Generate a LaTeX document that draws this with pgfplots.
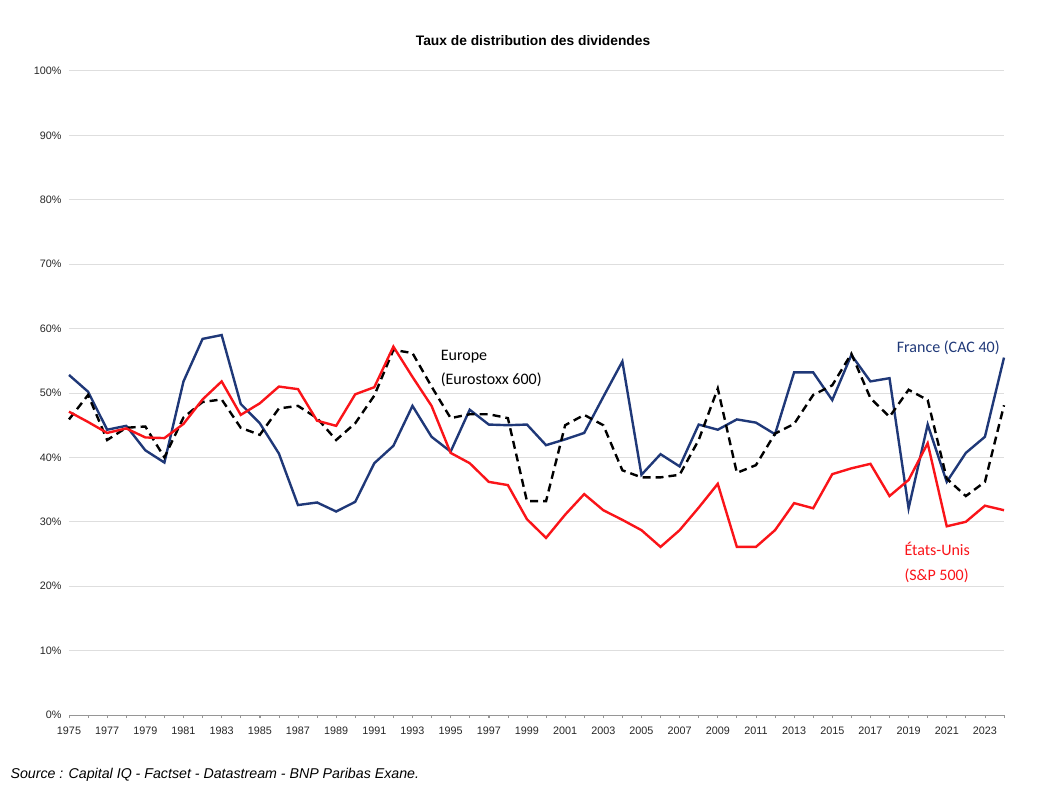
\documentclass[border=0pt]{standalone}
\usepackage{pgfplots}
\pgfplotsset{compat=1.18}
\usepackage{fontspec}
\setmainfont{Liberation Sans}
\newfontfamily\calib{Carlito}
\definecolor{cacnavy}{RGB}{31,56,120}
\definecolor{spred}{RGB}{250,20,25}
\definecolor{gridgray}{RGB}{222,222,222}
\definecolor{axgray}{RGB}{150,150,150}

\begin{document}
\begin{tikzpicture}
  \path[use as bounding box] (-69pt,-86pt) rectangle (993pt,715pt);
  \begin{axis}[
      at={(0,0)}, anchor=origin,
      scale only axis, width=935pt, height=644pt,
      xmin=1975, xmax=2024, ymin=0, ymax=100,
      axis x line*=bottom, axis y line*=left,
      x axis line style={axgray, line width=0.8pt},
      y axis line style={draw=none},
      xtick={1975,1977,...,2023}, minor xtick={1975,...,2024},
      xtick style={axgray, line width=0.6pt},
      ytick style={draw=none},
      minor tick length=3pt, major tick length=3pt,
      tick align=outside,
      ytick={0,10,...,100},
      ymajorgrids, grid style={gridgray, line width=1pt},
      /pgf/number format/assume math mode=true,
      /pgf/number format/1000 sep={},
      yticklabel={\pgfmathprintnumber{\tick}\%},
      ticklabel style={font=\fontsize{10.8}{12}\selectfont, text=black!85},
      yticklabel style={xshift=-1pt},
      xticklabel style={yshift=-5pt},
      clip=false,
    ]
    % France (CAC 40)
    \addplot[cacnavy, line width=2.4pt] coordinates {
      (1975,52.8) (1976,50.2) (1977,44.3) (1978,44.9) (1979,41.1)
      (1980,39.2) (1981,51.8) (1982,58.4) (1983,59.0) (1984,48.3)
      (1985,45.3) (1986,40.6) (1987,32.6) (1988,33.0) (1989,31.6)
      (1990,33.1) (1991,39.1) (1992,41.8) (1993,48.0) (1994,43.2)
      (1995,40.9) (1996,47.4) (1997,45.1) (1998,45.0) (1999,45.1)
      (2000,41.9) (2001,42.8) (2002,43.8) (2003,49.4) (2004,54.9)
      (2005,37.3) (2006,40.5) (2007,38.6) (2008,45.1) (2009,44.3)
      (2010,45.9) (2011,45.4) (2012,43.6) (2013,53.2) (2014,53.2)
      (2015,48.9) (2016,55.9) (2017,51.8) (2018,52.3) (2019,32.1)
      (2020,45.1) (2021,36.2) (2022,40.7) (2023,43.2) (2024,55.5)
    };
    % Europe (Eurostoxx 600)
    \addplot[black, line width=2.4pt, dash pattern=on 8pt off 5pt] coordinates {
      (1975,45.9) (1976,49.7) (1977,42.7) (1978,44.6) (1979,44.8)
      (1980,40.0) (1981,46.2) (1982,48.6) (1983,49.0) (1984,44.6)
      (1985,43.5) (1986,47.6) (1987,48.0) (1988,46.1) (1989,42.7)
      (1990,45.3) (1991,49.6) (1992,56.7) (1993,56.2) (1994,51.0)
      (1995,46.1) (1996,46.7) (1997,46.7) (1998,46.1) (1999,33.2)
      (2000,33.2) (2001,45.0) (2002,46.6) (2003,45.0) (2004,38.0)
      (2005,36.9) (2006,36.9) (2007,37.3) (2008,42.7) (2009,50.7)
      (2010,37.6) (2011,38.8) (2012,43.7) (2013,45.2) (2014,49.7)
      (2015,51.2) (2016,56.1) (2017,49.2) (2018,46.3) (2019,50.5)
      (2020,48.9) (2021,36.7) (2022,34.0) (2023,36.2) (2024,48.1)
    };
    % Etats-Unis (S&P 500)
    \addplot[spred, line width=2.4pt] coordinates {
      (1975,47.1) (1976,45.5) (1977,43.8) (1978,44.5) (1979,43.1)
      (1980,43.0) (1981,45.2) (1982,49.0) (1983,51.8) (1984,46.6)
      (1985,48.4) (1986,51.0) (1987,50.6) (1988,45.7) (1989,44.9)
      (1990,49.8) (1991,50.9) (1992,57.2) (1993,52.5) (1994,48.0)
      (1995,40.7) (1996,39.1) (1997,36.2) (1998,35.7) (1999,30.4)
      (2000,27.5) (2001,31.1) (2002,34.3) (2003,31.8) (2004,30.3)
      (2005,28.7) (2006,26.1) (2007,28.7) (2008,32.2) (2009,35.9)
      (2010,26.1) (2011,26.1) (2012,28.7) (2013,32.9) (2014,32.1)
      (2015,37.4) (2016,38.3) (2017,39.0) (2018,34.0) (2019,36.5)
      (2020,42.2) (2021,29.3) (2022,30.0) (2023,32.5) (2024,31.8)
    };
    \node[anchor=west, align=left, font=\calib\fontsize{16}{24}\selectfont]
      at (axis cs:1994.3,53.8) {Europe\\(Eurostoxx 600)};
    \node[anchor=west, font=\calib\fontsize{16}{24}\selectfont, text=cacnavy]
      at (axis cs:2018.2,57.1) {France (CAC 40)};
    \node[anchor=west, align=left, font=\calib\fontsize{16}{25}\selectfont, text=spred]
      at (axis cs:2018.6,23.7) {États-Unis\\(S\&P 500)};
    \node[font=\bfseries\fontsize{13.8}{16}\selectfont]
      at (rel axis cs:0.4963,1.0466) {Taux de distribution des dividendes};
  \end{axis}
  \node[anchor=west, font=\itshape\fontsize{14.2}{16}\selectfont]
    at (-62pt,-60pt) {Source : Capital IQ - Factset - Datastream - BNP Paribas Exane.};
\end{tikzpicture}
\end{document}
